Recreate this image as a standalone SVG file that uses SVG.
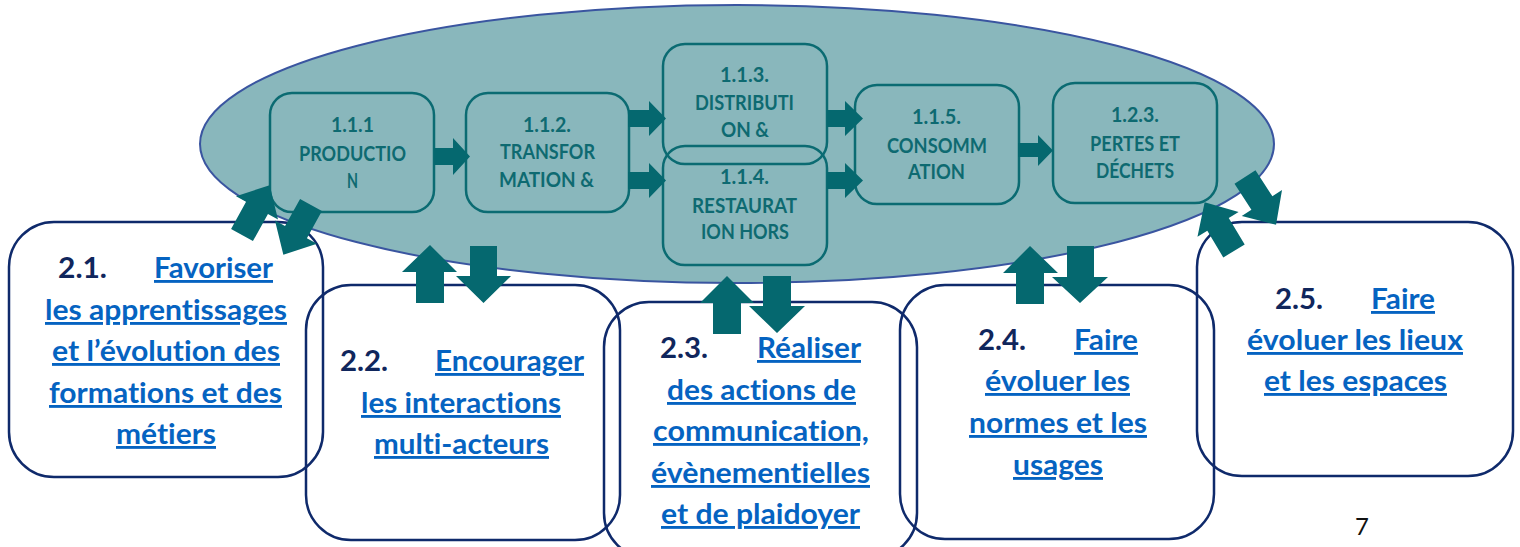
<svg xmlns="http://www.w3.org/2000/svg" width="1520" height="547" viewBox="0 0 1520 547">
<style>
text{font-variant-ligatures:none;font-feature-settings:"liga" 0,"clig" 0}
.ell{fill:#89B7BC;stroke:#3A55A0;stroke-width:2}
.ib{fill:none;stroke:#0B6B72;stroke-width:2.5}
.it{font-family:Lato,"Open Sans","Liberation Sans",sans-serif;font-weight:700;font-size:20.5px;fill:#0E6A71;text-anchor:start}
.ob{fill:none;stroke:#0F2A6B;stroke-width:2.5}
.num{font-family:Lato,"Open Sans","Liberation Sans",sans-serif;font-weight:700;font-size:28.5px;fill:#10265C}
.lk{font-family:Lato,"Open Sans","Liberation Sans",sans-serif;font-weight:700;font-size:28.5px;fill:#0563C1;text-decoration:underline;text-decoration-thickness:2.5px}
.ar{fill:#05686F}
.pg{font-family:Lato,"Liberation Sans",sans-serif;font-size:24px;fill:#111}
</style>
<defs>
<polygon id="darr" points="-12.5,0 12.5,0 12.5,-31 24,-31 0,-57 -24,-31 -12.5,-31"/>
</defs>

<g id="outer-boxes">
<g id="n21">
<rect class="ob" x="9" y="222" width="314" height="255" rx="45"/>
<text class="num" x="58" y="278" textLength="49" lengthAdjust="spacingAndGlyphs">2.1.</text>
<text class="lk" x="154" y="278" textLength="119" lengthAdjust="spacingAndGlyphs">Favoriser</text>
<text class="lk" x="45" y="320" textLength="242" lengthAdjust="spacingAndGlyphs">les apprentissages</text>
<text class="lk" x="52" y="361" textLength="228" lengthAdjust="spacingAndGlyphs">et l’évolution des</text>
<text class="lk" x="49" y="403" textLength="233" lengthAdjust="spacingAndGlyphs">formations et des</text>
<text class="lk" x="116" y="444" textLength="100" lengthAdjust="spacingAndGlyphs">métiers</text>
</g>
<g id="n22">
<rect class="ob" x="306" y="285" width="314" height="255" rx="45"/>
<text class="num" x="340" y="371" textLength="48" lengthAdjust="spacingAndGlyphs">2.2.</text>
<text class="lk" x="435" y="371" textLength="149" lengthAdjust="spacingAndGlyphs">Encourager</text>
<text class="lk" x="361" y="413" textLength="200" lengthAdjust="spacingAndGlyphs">les interactions</text>
<text class="lk" x="374" y="454" textLength="175" lengthAdjust="spacingAndGlyphs">multi-acteurs</text>
</g>
<g id="n23">
<rect class="ob" x="604" y="302" width="313" height="256" rx="45"/>
<text class="num" x="660" y="358" textLength="48" lengthAdjust="spacingAndGlyphs">2.3.</text>
<text class="lk" x="757" y="358" textLength="104" lengthAdjust="spacingAndGlyphs">Réaliser</text>
<text class="lk" x="667" y="400" textLength="189" lengthAdjust="spacingAndGlyphs">des actions de</text>
<text class="lk" x="653" y="441" textLength="216" lengthAdjust="spacingAndGlyphs">communication,</text>
<text class="lk" x="651" y="483" textLength="219" lengthAdjust="spacingAndGlyphs">évènementielles</text>
<text class="lk" x="661" y="524" textLength="199" lengthAdjust="spacingAndGlyphs">et de plaidoyer</text>
</g>
<g id="n24">
<rect class="ob" x="900" y="285" width="314" height="254" rx="45"/>
<text class="num" x="978" y="350" textLength="48" lengthAdjust="spacingAndGlyphs">2.4.</text>
<text class="lk" x="1074" y="350" textLength="64" lengthAdjust="spacingAndGlyphs">Faire</text>
<text class="lk" x="985" y="391" textLength="145" lengthAdjust="spacingAndGlyphs">évoluer les</text>
<text class="lk" x="969" y="433" textLength="178" lengthAdjust="spacingAndGlyphs">normes et les</text>
<text class="lk" x="1013" y="475" textLength="90" lengthAdjust="spacingAndGlyphs">usages</text>
</g>
<g id="n25">
<rect class="ob" x="1197" y="222" width="316" height="254" rx="45"/>
<text class="num" x="1275" y="309" textLength="48" lengthAdjust="spacingAndGlyphs">2.5.</text>
<text class="lk" x="1371" y="309" textLength="64" lengthAdjust="spacingAndGlyphs">Faire</text>
<text class="lk" x="1247" y="350" textLength="216" lengthAdjust="spacingAndGlyphs">évoluer les lieux</text>
<text class="lk" x="1264" y="391" textLength="183" lengthAdjust="spacingAndGlyphs">et les espaces</text>
</g>
</g>

<g id="system">
<ellipse class="ell" cx="737" cy="144" rx="537" ry="139"/>
</g>

<g id="inner-boxes">
<g id="n111">
<rect class="ib" x="270" y="93" width="164" height="119" rx="22"/>
<text class="it" x="331" y="132" textLength="43" lengthAdjust="spacingAndGlyphs">1.1.1</text>
<text class="it" x="299" y="161" textLength="107" lengthAdjust="spacingAndGlyphs">PRODUCTIO</text>
<text class="it" x="347" y="188" textLength="11" lengthAdjust="spacingAndGlyphs">N</text>
</g>
<g id="n112">
<rect class="ib" x="466" y="93" width="163" height="119" rx="22"/>
<text class="it" x="523" y="132" textLength="48" lengthAdjust="spacingAndGlyphs">1.1.2.</text>
<text class="it" x="500" y="159" textLength="95" lengthAdjust="spacingAndGlyphs">TRANSFOR</text>
<text class="it" x="499" y="187" textLength="95" lengthAdjust="spacingAndGlyphs">MATION &amp;</text>
</g>
<g id="n113">
<rect class="ib" x="663" y="44" width="164" height="120" rx="22"/>
<text class="it" x="720" y="82" textLength="49" lengthAdjust="spacingAndGlyphs">1.1.3.</text>
<text class="it" x="695" y="110" textLength="99" lengthAdjust="spacingAndGlyphs">DISTRIBUTI</text>
<text class="it" x="721" y="137" textLength="48" lengthAdjust="spacingAndGlyphs">ON &amp;</text>
</g>
<g id="n114">
<rect class="ib" x="663" y="146" width="164" height="119" rx="22"/>
<text class="it" x="720" y="184" textLength="49" lengthAdjust="spacingAndGlyphs">1.1.4.</text>
<text class="it" x="692" y="213" textLength="105" lengthAdjust="spacingAndGlyphs">RESTAURAT</text>
<text class="it" x="701" y="239" textLength="88" lengthAdjust="spacingAndGlyphs">ION HORS</text>
</g>
<g id="n115">
<rect class="ib" x="855" y="85" width="164" height="119" rx="22"/>
<text class="it" x="912" y="124" textLength="49" lengthAdjust="spacingAndGlyphs">1.1.5.</text>
<text class="it" x="887" y="153" textLength="100" lengthAdjust="spacingAndGlyphs">CONSOMM</text>
<text class="it" x="908" y="179" textLength="57" lengthAdjust="spacingAndGlyphs">ATION</text>
</g>
<g id="n123">
<rect class="ib" x="1053" y="83" width="164" height="120" rx="22"/>
<text class="it" x="1111" y="122" textLength="48" lengthAdjust="spacingAndGlyphs">1.2.3.</text>
<text class="it" x="1090" y="151" textLength="90" lengthAdjust="spacingAndGlyphs">PERTES ET</text>
<text class="it" x="1096" y="178" textLength="78" lengthAdjust="spacingAndGlyphs">DÉCHETS</text>
</g>
</g>

<g id="connectors">
<polygon class="ar" points="434,148 453,148 453,138 470,156.5 453,175 453,165 434,165"/>
<polygon class="ar" points="628,110 649,110 649,101 666,118.5 649,136 649,127 628,127"/>
<polygon class="ar" points="628,172 649,172 649,163 666,180.5 649,198 649,189 628,189"/>
<polygon class="ar" points="827,110 845,110 845,101 863,118.5 845,136 845,127 827,127"/>
<polygon class="ar" points="827,172 845,172 845,163 863,180.5 845,198 845,189 827,189"/>
<polygon class="ar" points="1018,143 1038,143 1038,135 1053,150.5 1038,166 1038,157 1018,157"/>

<polygon class="ar" points="416,303 416,272 402,272 430,245 457,272 444,272 444,303"/>
<polygon class="ar" points="470,246 497,246 497,276 511,276 483.5,303 456,276 470,276"/>
<polygon class="ar" points="713,334 713,303 700,303 727,276 754,303 741,303 741,334"/>
<polygon class="ar" points="763,276 791,276 791,306 805,306 777,333 749,306 763,306"/>
<polygon class="ar" points="1016,304 1016,273 1003,273 1030,246 1058,273 1044,273 1044,304"/>
<polygon class="ar" points="1067,246 1094,246 1094,277 1108,277 1080,303 1052,277 1067,277"/>

<use href="#darr" class="ar" transform="translate(242,235) rotate(29)"/>
<use href="#darr" class="ar" transform="translate(311,205) rotate(209)"/>
<use href="#darr" class="ar" transform="translate(1234,251) rotate(-31)"/>
<use href="#darr" class="ar" transform="translate(1245,177) rotate(147)"/>
</g>

<text class="pg" x="1362" y="535" text-anchor="middle">7</text>
</svg>
